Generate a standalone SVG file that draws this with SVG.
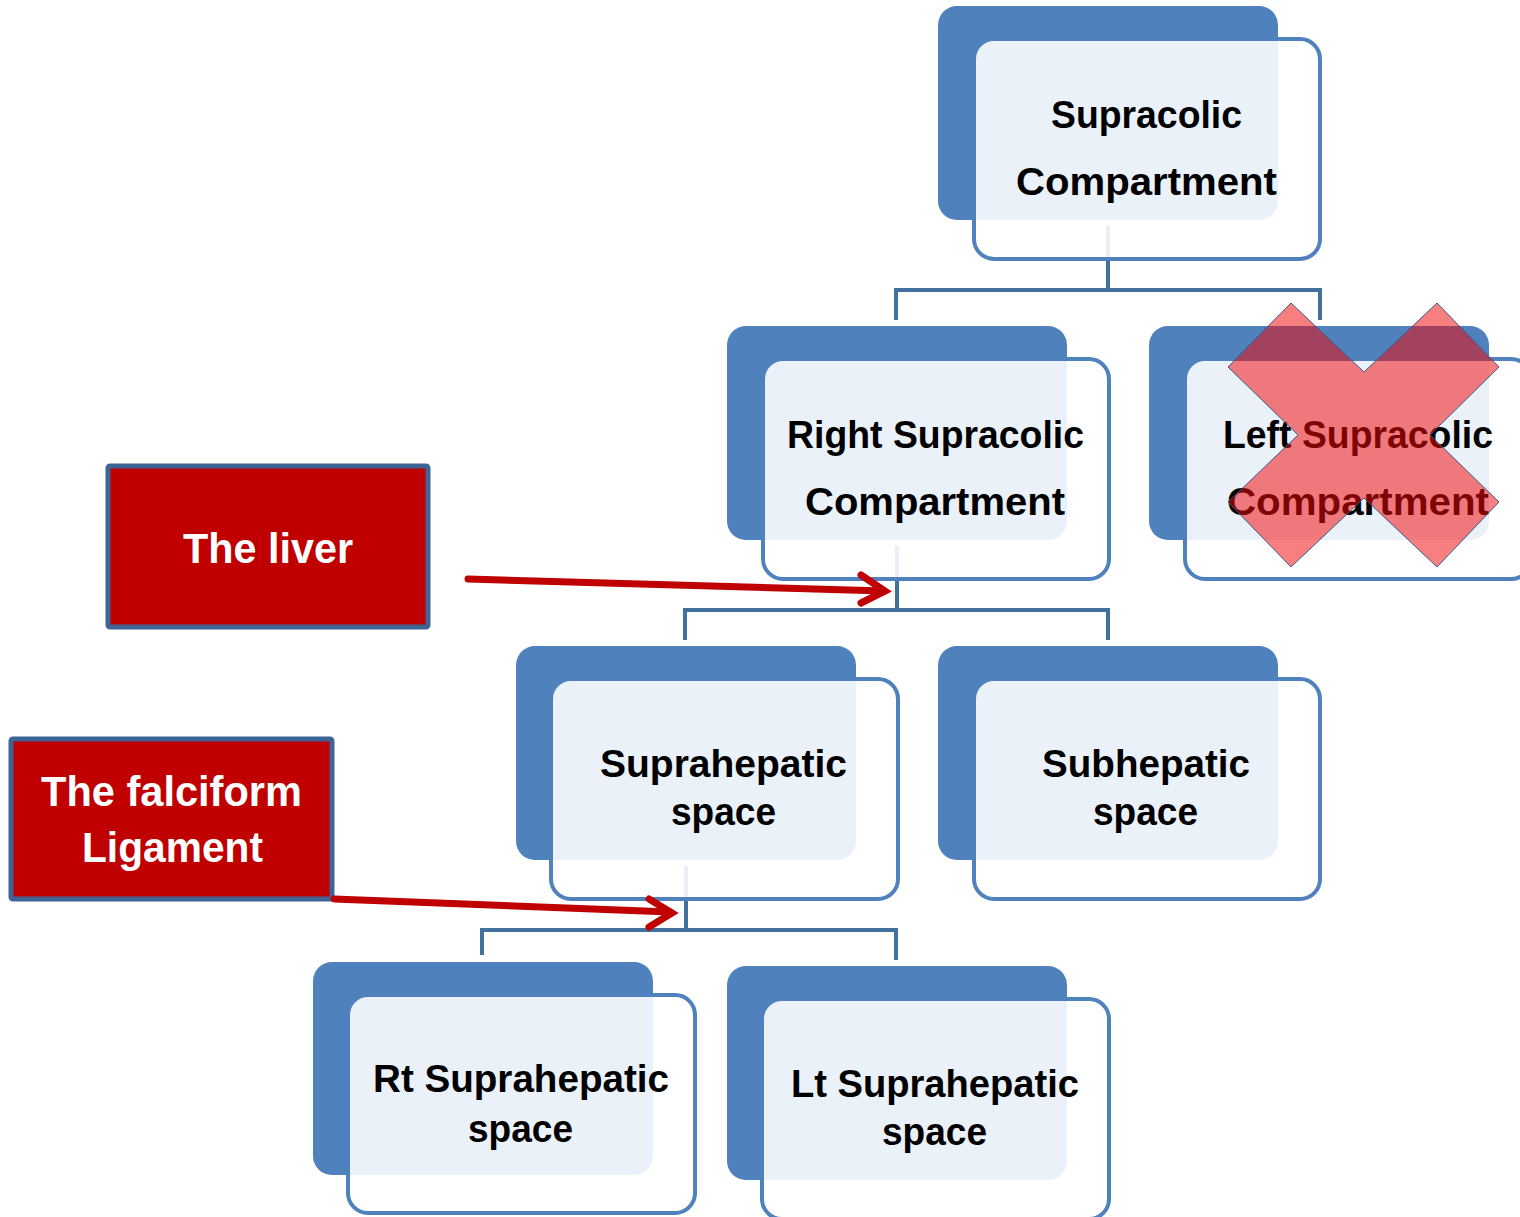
<svg xmlns="http://www.w3.org/2000/svg" width="1520" height="1217" viewBox="0 0 1520 1217">
<defs>
<style>
.back{fill:#4F81BD}
.front{fill:#FFFFFF;fill-opacity:0.885;stroke:#4F81BD;stroke-width:4}
.lbl{font-family:"Liberation Sans",Arial,sans-serif;font-weight:bold;font-size:39px;fill:#000000}
.conn{fill:none;stroke:#41719C;stroke-width:4}
.callout{fill:#C00000;stroke:#3E6496;stroke-width:5}
.ctext{font-family:"Liberation Sans",Arial,sans-serif;font-weight:bold;font-size:42px;fill:#FFFFFF}
.arrow{fill:none;stroke:#C00000;stroke-width:7;stroke-linecap:round;stroke-linejoin:miter}
.cross{fill:#F20A0A;fill-opacity:0.52;stroke:#385D8A;stroke-width:1}
</style>
</defs>
<rect width="1520" height="1217" fill="#FFFFFF"/>
<g id="connectors">
<path class="conn" d="M1108 226V290M896 320V290H1320V320"/>
<path class="conn" d="M897 546V610M685 640V610H1108V640"/>
<path class="conn" d="M686 866V930M482 955V930H896V960"/>
</g>
<g id="node-supracolic">
<rect class="back" x="938" y="6" width="340" height="214" rx="19"/>
<rect class="front" x="974" y="39" width="346" height="220" rx="20"/>
<text class="lbl" x="1051" y="128" textLength="191" lengthAdjust="spacingAndGlyphs">Supracolic</text>
<text class="lbl" x="1016" y="195" textLength="261" lengthAdjust="spacingAndGlyphs">Compartment</text>
</g>
<g id="node-right-supracolic">
<rect class="back" x="727" y="326" width="340" height="214" rx="19"/>
<rect class="front" x="763" y="359" width="346" height="220" rx="20"/>
<text class="lbl" x="787" y="448" textLength="297" lengthAdjust="spacingAndGlyphs">Right Supracolic</text>
<text class="lbl" x="805" y="515" textLength="260" lengthAdjust="spacingAndGlyphs">Compartment</text>
</g>
<g id="node-left-supracolic">
<rect class="back" x="1149" y="326" width="340" height="214" rx="19"/>
<rect class="front" x="1185" y="359" width="346" height="220" rx="20"/>
<text class="lbl" x="1223" y="448" textLength="270" lengthAdjust="spacingAndGlyphs">Left Supracolic</text>
<text class="lbl" x="1227" y="515" textLength="262" lengthAdjust="spacingAndGlyphs">Compartment</text>
<polygon class="cross" points="1291,303 1364,372 1437,303 1499,367 1430,435 1499,502 1437,567 1364,498 1291,567 1228,502 1298,435 1228,367"/>
</g>
<g id="node-suprahepatic">
<rect class="back" x="516" y="646" width="340" height="214" rx="19"/>
<rect class="front" x="551" y="679" width="347" height="220" rx="20"/>
<text class="lbl" x="600" y="777" textLength="247" lengthAdjust="spacingAndGlyphs">Suprahepatic</text>
<text class="lbl" x="671" y="825" textLength="105" lengthAdjust="spacingAndGlyphs">space</text>
</g>
<g id="node-subhepatic">
<rect class="back" x="938" y="646" width="340" height="214" rx="19"/>
<rect class="front" x="974" y="679" width="346" height="220" rx="20"/>
<text class="lbl" x="1042" y="777" textLength="208" lengthAdjust="spacingAndGlyphs">Subhepatic</text>
<text class="lbl" x="1093" y="825" textLength="105" lengthAdjust="spacingAndGlyphs">space</text>
</g>
<g id="node-rt-suprahepatic">
<rect class="back" x="313" y="962" width="340" height="213" rx="19"/>
<rect class="front" x="348" y="995" width="347" height="218" rx="20"/>
<text class="lbl" x="373" y="1092" textLength="296" lengthAdjust="spacingAndGlyphs">Rt Suprahepatic</text>
<text class="lbl" x="468" y="1142" textLength="105" lengthAdjust="spacingAndGlyphs">space</text>
</g>
<g id="node-lt-suprahepatic">
<rect class="back" x="727" y="966" width="340" height="214" rx="19"/>
<rect class="front" x="762" y="999" width="347" height="220" rx="20"/>
<text class="lbl" x="791" y="1097" textLength="288" lengthAdjust="spacingAndGlyphs">Lt Suprahepatic</text>
<text class="lbl" x="882" y="1145" textLength="105" lengthAdjust="spacingAndGlyphs">space</text>
</g>
<g id="callout-liver">
<rect class="callout" x="108" y="466" width="320" height="161" rx="2"/>
<text class="ctext" x="183" y="563" textLength="170" lengthAdjust="spacingAndGlyphs">The liver</text>
</g>
<g id="callout-falciform">
<rect class="callout" x="11" y="739" width="321" height="160" rx="2"/>
<text class="ctext" x="41" y="806" textLength="261" lengthAdjust="spacingAndGlyphs">The falciform</text>
<text class="ctext" x="82" y="862" textLength="181" lengthAdjust="spacingAndGlyphs">Ligament</text>
</g>
<g id="arrows">
<path class="arrow" d="M468 579L884 591"/>
<path class="arrow" d="M861 575L885 591L861 603"/>
<path class="arrow" d="M334 899L670 912"/>
<path class="arrow" d="M649 899L672 913L649 927"/>
</g>
</svg>
